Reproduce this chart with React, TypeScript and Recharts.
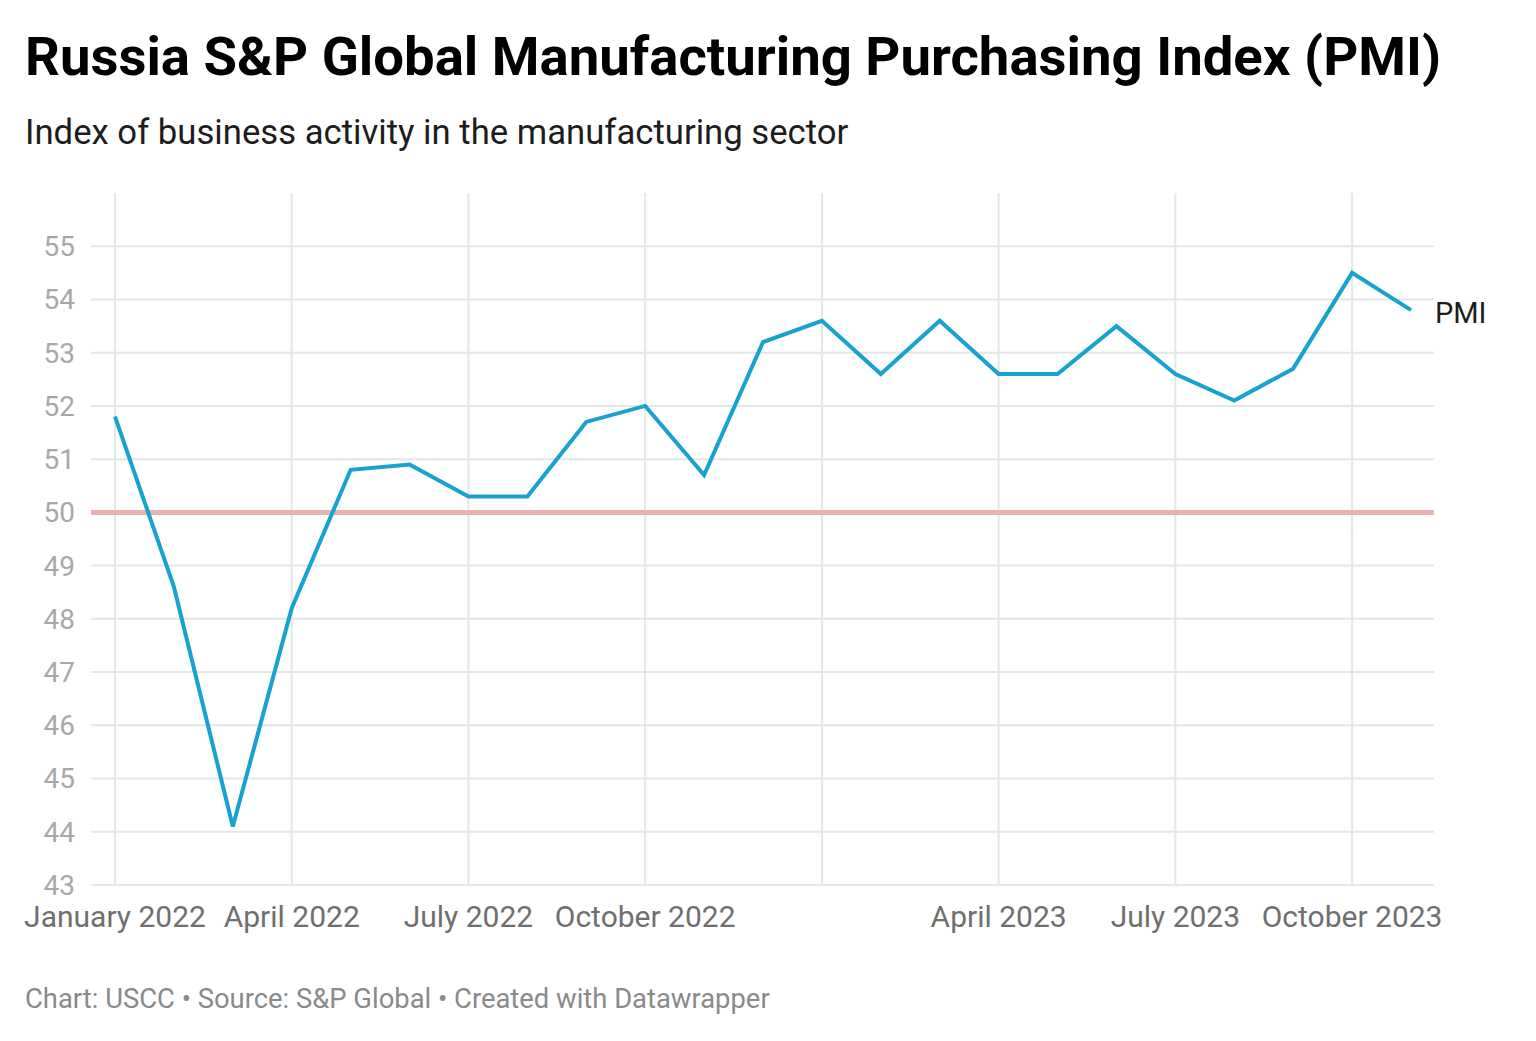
import React from "react";
import {
  LineChart,
  Line,
  XAxis,
  YAxis,
  CartesianGrid,
  ReferenceLine,
  LabelList,
} from "recharts";

const months = [
  "Jan 2022", "Feb 2022", "Mar 2022", "Apr 2022", "May 2022", "Jun 2022",
  "Jul 2022", "Aug 2022", "Sep 2022", "Oct 2022", "Nov 2022", "Dec 2022",
  "Jan 2023", "Feb 2023", "Mar 2023", "Apr 2023", "May 2023", "Jun 2023",
  "Jul 2023", "Aug 2023", "Sep 2023", "Oct 2023", "Nov 2023",
];
const pmi = [
  51.8, 48.6, 44.1, 48.2, 50.8, 50.9, 50.3, 50.3, 51.7, 52.0, 50.7, 53.2,
  53.6, 52.6, 53.6, 52.6, 52.6, 53.5, 52.6, 52.1, 52.7, 54.5, 53.8,
];
const xTicks = [0, 3, 6, 9, 12, 15, 18, 21];
const xTickLabels = [
  "January 2022", "April 2022", "July 2022", "October 2022",
  "", "April 2023", "July 2023", "October 2023",
];
const yTicks = [43, 44, 45, 46, 47, 48, 49, 50, 51, 52, 53, 54, 55];

const data = months.map((m, i) => ({ idx: i, month: m, pmi: pmi[i] }));

const FONT = "Roboto, sans-serif";

// only the last point gets the series name
const EndLabel = (props: any) => {
  const { x, y, index } = props;
  if (index !== data.length - 1) return null;
  return (
    <text x={x + 24} y={y + 5} dominantBaseline="middle" fontSize={29} fill="#1d1d1d" fontFamily={FONT}>
      PMI
    </text>
  );
};

export default function App() {
  return (
    <div style={{ position: "relative", width: 1520, height: 1025, fontFamily: FONT, background: "#fff" }}>
      <div style={{ position: "absolute", left: 17, top: 21, fontSize: 54.5, lineHeight: 1, fontWeight: 700, color: "#000", whiteSpace: "nowrap" }}>
        Russia S&amp;P Global Manufacturing Purchasing Index (PMI)
      </div>
      <div style={{ position: "absolute", left: 17, top: 107, fontSize: 34.7, lineHeight: 1, color: "#1d1d1d", whiteSpace: "nowrap" }}>
        Index of business activity in the manufacturing sector
      </div>
      <div style={{ position: "absolute", left: 0, top: 152 }}>
        <LineChart width={1510} height={785} data={data} margin={{ top: 33, right: 84, bottom: 0, left: 0 }}>
          <CartesianGrid
            stroke="#e6e6e6"
            strokeWidth={2}
            horizontalValues={yTicks}
            verticalValues={xTicks}
          />
          <XAxis
            dataKey="idx"
            type="number"
            domain={[0, 22]}
            ticks={xTicks}
            tickFormatter={(v: number) => xTickLabels[xTicks.indexOf(v)] ?? ""}
            padding={{ left: 24, right: 23 }}
            axisLine={false}
            tickLine={false}
            tickMargin={15}
            height={60}
            interval={0}
            tick={{ fill: "#6f6f6f", fontSize: 30, fontFamily: FONT }}
          />
          <YAxis
            domain={[43, 56]}
            ticks={yTicks}
            axisLine={false}
            tickLine={false}
            tickMargin={10}
            width={83}
            interval={0}
            tick={{ fill: "#a8a8a8", fontSize: 28, fontFamily: FONT }}
          />
          <ReferenceLine y={50} stroke="#eab1b1" strokeWidth={5} />
          <Line
            dataKey="pmi"
            stroke="#18a2d0"
            strokeWidth={4}
            dot={false}
            activeDot={false}
            isAnimationActive={false}
          >
            <LabelList dataKey="pmi" content={EndLabel} />
          </Line>
        </LineChart>
      </div>
      <div style={{ position: "absolute", left: 17, top: 978, fontSize: 27.4, lineHeight: 1, color: "#8a8a8a", whiteSpace: "nowrap" }}>
        Chart: USCC • Source: S&amp;P Global • Created with Datawrapper
      </div>
    </div>
  );
}
